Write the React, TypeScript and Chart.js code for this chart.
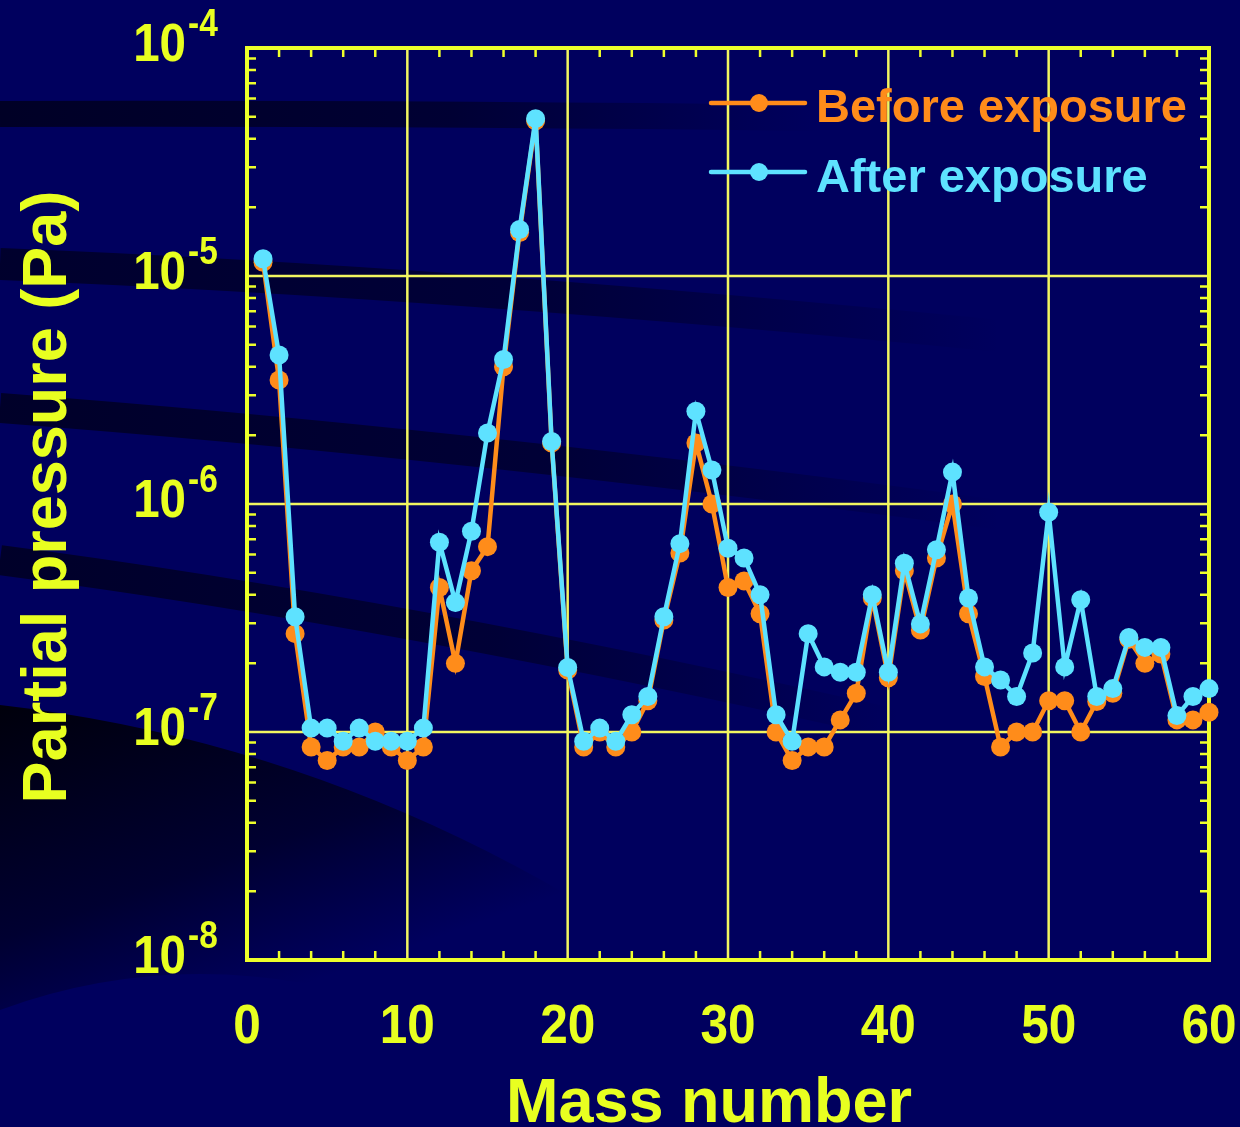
import React, { useEffect, useRef } from 'react';
import { Chart, registerables } from 'chart.js';

Chart.register(...registerables);

const massNumbers = [
  1, 2, 3, 4, 5, 6, 7, 8, 9, 10, 11, 12, 13, 14, 15, 16, 17, 18, 19, 20,
  21, 22, 23, 24, 25, 26, 27, 28, 29, 30, 31, 32, 33, 34, 35, 36, 37, 38, 39, 40,
  41, 42, 43, 44, 45, 46, 47, 48, 49, 50, 51, 52, 53, 54, 55, 56, 57, 58, 59, 60,
];

const beforeExposure = [
  1.15e-5, 3.5e-6, 2.7e-7, 8.6e-8, 7.5e-8, 8.6e-8, 8.6e-8, 1.0e-7, 8.6e-8, 7.5e-8,
  8.6e-8, 4.3e-7, 2.0e-7, 5.1e-7, 6.5e-7, 4.0e-6, 1.55e-5, 4.8e-5, 1.85e-6, 1.87e-7,
  8.6e-8, 1.0e-7, 8.6e-8, 1.0e-7, 1.37e-7, 3.1e-7, 6.1e-7, 1.85e-6, 1.0e-6, 4.3e-7,
  4.6e-7, 3.3e-7, 1.0e-7, 7.5e-8, 8.6e-8, 8.6e-8, 1.13e-7, 1.48e-7, 3.87e-7, 1.73e-7,
  5.1e-7, 2.8e-7, 5.8e-7, 1.0e-6, 3.3e-7, 1.75e-7, 8.6e-8, 1.0e-7, 1.0e-7, 1.37e-7,
  1.37e-7, 1.0e-7, 1.36e-7, 1.48e-7, 2.55e-7, 2.0e-7, 2.2e-7, 1.13e-7, 1.13e-7, 1.22e-7,
];

const afterExposure = [
  1.19e-5, 4.5e-6, 3.2e-7, 1.04e-7, 1.04e-7, 9.1e-8, 1.04e-7, 9.1e-8, 9.1e-8, 9.1e-8,
  1.04e-7, 6.8e-7, 3.7e-7, 7.6e-7, 2.05e-6, 4.3e-6, 1.6e-5, 4.9e-5, 1.88e-6, 1.92e-7,
  9.1e-8, 1.04e-7, 9.1e-8, 1.19e-7, 1.43e-7, 3.2e-7, 6.7e-7, 2.55e-6, 1.41e-6, 6.4e-7,
  5.8e-7, 4.0e-7, 1.19e-7, 9.1e-8, 2.7e-7, 1.93e-7, 1.83e-7, 1.83e-7, 4.0e-7, 1.83e-7,
  5.5e-7, 2.98e-7, 6.3e-7, 1.38e-6, 3.87e-7, 1.93e-7, 1.69e-7, 1.43e-7, 2.22e-7, 9.2e-7,
  1.93e-7, 3.8e-7, 1.43e-7, 1.55e-7, 2.6e-7, 2.35e-7, 2.35e-7, 1.18e-7, 1.43e-7, 1.55e-7,
];

const xTickValues = [0, 10, 20, 30, 40, 50, 60];
const xMinorTickValues = [2, 4, 6, 8, 12, 14, 16, 18, 22, 24, 26, 28, 32, 34, 36, 38, 42, 44, 46, 48, 52, 54, 56, 58];
const yDecadeExponents = [-4, -5, -6, -7, -8];
const yMinorMantissas = [2, 3, 4, 5, 6, 7, 8, 9];
const seriesLabels = ['Before exposure', 'After exposure'];
const xTitle = 'Mass number';
const yTitle = 'Partial pressure (Pa)';

const ORANGE = '#FF8C1A';
const CYAN = '#5EE2FF';
const YELLOW = '#E8FF20';
const FRAME = '#EEFF2A';
const GRID = '#F2F560';
const FONT = '"Liberation Sans", Arial, Helvetica, sans-serif';

function squeezedText(
  ctx: CanvasRenderingContext2D,
  text: string,
  x: number,
  y: number,
  align: CanvasTextAlign,
  sx: number,
) {
  ctx.save();
  ctx.translate(x, y);
  ctx.scale(sx, 1);
  ctx.textAlign = align;
  ctx.fillText(text, 0, 0);
  ctx.restore();
}

const decorPlugin = {
  id: 'decor',
  beforeDraw(chart: any) {
    const ctx = chart.ctx as CanvasRenderingContext2D;
    const w = chart.width;
    const h = chart.height;
    ctx.save();
    ctx.fillStyle = '#00005E';
    ctx.fillRect(0, 0, w, h);

    // dark decorative swoosh bottom-left
    const g0 = ctx.createLinearGradient(0, 710, 120, 1050);
    g0.addColorStop(0, 'rgba(0,0,8,0.95)');
    g0.addColorStop(0.6, 'rgba(0,0,12,0.55)');
    g0.addColorStop(1, 'rgba(0,0,20,0.0)');
    ctx.fillStyle = g0;
    ctx.beginPath();
    ctx.moveTo(0, 705);
    ctx.quadraticCurveTo(480, 760, 880, 1127);
    ctx.lineTo(640, 1127);
    ctx.quadraticCurveTo(300, 900, 0, 1010);
    ctx.closePath();
    ctx.fill();

    const band = (x0: number, y0: number, cx: number, cy: number, x1: number, y1: number, width: number, alpha: number) => {
      const g = ctx.createLinearGradient(0, 0, x1, 0);
      g.addColorStop(0, `rgba(0,0,28,${alpha})`);
      g.addColorStop(0.55, `rgba(0,0,28,${alpha * 0.75})`);
      g.addColorStop(1, 'rgba(0,0,28,0)');
      ctx.strokeStyle = g;
      ctx.lineWidth = width;
      ctx.beginPath();
      ctx.moveTo(x0, y0);
      ctx.quadraticCurveTo(cx, cy, x1, y1);
      ctx.stroke();
    };
    band(0, 114, 400, 113, 820, 118, 26, 0.85);
    band(0, 264, 450, 282, 1000, 336, 32, 0.75);
    band(0, 408, 450, 442, 1000, 515, 30, 0.8);
    band(0, 560, 400, 612, 900, 725, 30, 0.8);
    ctx.restore();
  },
  beforeDatasetsDraw(chart: any) {
    const ctx = chart.ctx as CanvasRenderingContext2D;
    const xs = chart.scales.x;
    const ys = chart.scales.y;
    const { left, right, top, bottom } = chart.chartArea;
    ctx.save();
    ctx.strokeStyle = GRID;
    ctx.lineWidth = 2.5;
    xTickValues.forEach((v) => {
      const x = xs.getPixelForValue(v);
      ctx.beginPath();
      ctx.moveTo(x, top);
      ctx.lineTo(x, bottom);
      ctx.stroke();
    });
    yDecadeExponents.forEach((e) => {
      const y = ys.getPixelForValue(Math.pow(10, e));
      ctx.beginPath();
      ctx.moveTo(left, y);
      ctx.lineTo(right, y);
      ctx.stroke();
    });
    ctx.strokeStyle = FRAME;
    ctx.lineWidth = 2.5;
    const tl = 9;
    xMinorTickValues.forEach((v) => {
      const x = xs.getPixelForValue(v);
      ctx.beginPath();
      ctx.moveTo(x, bottom);
      ctx.lineTo(x, bottom - tl);
      ctx.moveTo(x, top);
      ctx.lineTo(x, top + tl);
      ctx.stroke();
    });
    yDecadeExponents.forEach((e) => {
      if (e === -4) return;
      yMinorMantissas.forEach((m) => {
        const y = ys.getPixelForValue(m * Math.pow(10, e));
        ctx.beginPath();
        ctx.moveTo(left, y);
        ctx.lineTo(left + tl, y);
        ctx.moveTo(right, y);
        ctx.lineTo(right - tl, y);
        ctx.stroke();
      });
    });
    ctx.strokeStyle = FRAME;
    ctx.lineWidth = 4;
    ctx.strokeRect(left, top, right - left, bottom - top);
    ctx.restore();
  },
  afterDraw(chart: any) {
    const ctx = chart.ctx as CanvasRenderingContext2D;
    const xs = chart.scales.x;
    const ys = chart.scales.y;
    ctx.save();
    ctx.fillStyle = YELLOW;
    ctx.textBaseline = 'alphabetic';
    // x tick labels
    ctx.font = `bold 55px ${FONT}`;
    xTickValues.forEach((v) => {
      squeezedText(ctx, String(v), xs.getPixelForValue(v), 1043, 'center', 0.9);
    });
    // y tick labels 10^n
    yDecadeExponents.forEach((e) => {
      const y = ys.getPixelForValue(Math.pow(10, e));
      ctx.font = `bold 54px ${FONT}`;
      squeezedText(ctx, '10', 186, y + 13, 'right', 0.88);
      ctx.font = `bold 38px ${FONT}`;
      squeezedText(ctx, String(e), 188, y - 12, 'left', 0.88);
    });
    // axis titles
    ctx.font = `bold 63px ${FONT}`;
    ctx.textAlign = 'center';
    ctx.fillText(xTitle, 709, 1122);
    ctx.save();
    ctx.translate(66, 497);
    ctx.rotate(-Math.PI / 2);
    ctx.fillText(yTitle, 0, 0);
    ctx.restore();

    // legend
    const colors = [ORANGE, CYAN];
    const lineYs = [103, 172];
    const textYs = [122, 192];
    seriesLabels.forEach((label, i) => {
      ctx.strokeStyle = colors[i];
      ctx.fillStyle = colors[i];
      ctx.lineWidth = 4.5;
      ctx.lineCap = 'round';
      ctx.beginPath();
      ctx.moveTo(711, lineYs[i]);
      ctx.lineTo(805, lineYs[i]);
      ctx.stroke();
      ctx.beginPath();
      ctx.arc(759, lineYs[i], 9, 0, Math.PI * 2);
      ctx.fill();
      ctx.font = `bold 47px ${FONT}`;
      ctx.textAlign = 'left';
      ctx.fillText(label, 816, textYs[i]);
    });
    ctx.restore();
  },
};

export default function App() {
  const canvasRef = useRef<HTMLCanvasElement | null>(null);

  useEffect(() => {
    document.body.style.margin = '0';
    document.body.style.background = '#00005E';
    const canvas = canvasRef.current;
    if (!canvas) return;
    const toPoints = (vals: number[]) => massNumbers.map((m, i) => ({ x: m, y: vals[i] }));
    const chart = new Chart(canvas, {
      type: 'line',
      data: {
        datasets: [
          {
            label: seriesLabels[1],
            data: toPoints(afterExposure),
            borderColor: CYAN,
            backgroundColor: CYAN,
            pointBackgroundColor: CYAN,
            pointBorderWidth: 0,
            pointRadius: 9.5,
            borderWidth: 4.5,
            tension: 0,
            clip: false,
            order: 0,
          },
          {
            label: seriesLabels[0],
            data: toPoints(beforeExposure),
            borderColor: ORANGE,
            backgroundColor: ORANGE,
            pointBackgroundColor: ORANGE,
            pointBorderWidth: 0,
            pointRadius: 9.5,
            borderWidth: 4.5,
            tension: 0,
            clip: false,
            order: 1,
          },
        ],
      },
      options: {
        responsive: false,
        animation: false,
        layout: { padding: { left: 247, top: 48, right: 31, bottom: 167 } },
        plugins: {
          legend: { display: false },
          tooltip: { enabled: false },
          title: { display: false },
        },
        scales: {
          x: { type: 'linear', display: false, min: 0, max: 60 },
          y: { type: 'logarithmic', display: false, min: 1e-8, max: 1e-4 },
        },
      },
      plugins: [decorPlugin],
    } as any);
    return () => chart.destroy();
  }, []);

  return (
    <div style={{ width: 1240, height: 1127 }}>
      <canvas ref={canvasRef} width={1240} height={1127} style={{ display: 'block' }} />
    </div>
  );
}
